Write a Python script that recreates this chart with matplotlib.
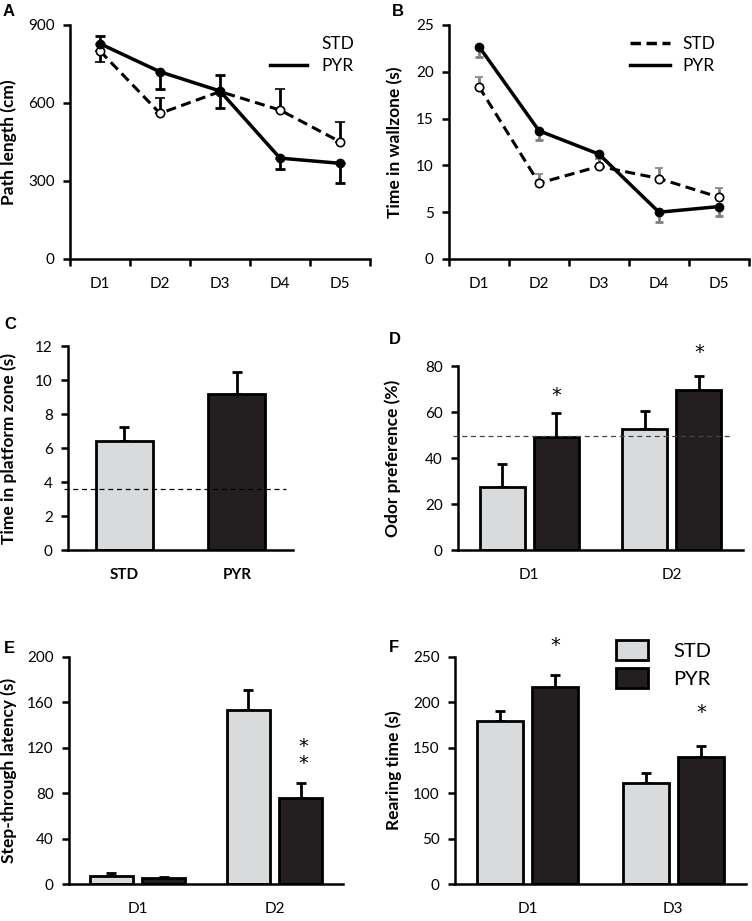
import matplotlib
matplotlib.use("Agg")
import matplotlib.pyplot as plt
from matplotlib.lines import Line2D
from matplotlib.patches import Patch
import numpy as np

plt.rcParams['font.family'] = ['Lato', 'DejaVu Sans']

W, H = 752, 921
GRAY = '#d9dadc'
BLACK = '#231f20'

# ---- data ----
days5 = ['D1', 'D2', 'D3', 'D4', 'D5']

# A: path length (cm)
a_std = [800, 560, 644, 573, 451]
a_std_lo = [42, 0, 0, 0, 0]
a_std_hi = [0, 58, 0, 80, 77]
a_pyr = [828, 720, 646, 388, 368]
a_pyr_lo = [0, 66, 67, 40, 74]
a_pyr_hi = [30, 0, 62, 0, 0]

# B: time in wallzone (s)
b_std = [18.4, 8.1, 9.9, 8.6, 6.6]
b_std_hi = [1.0, 1.0, 0.8, 1.1, 1.0]
b_pyr = [22.7, 13.7, 11.2, 5.0, 5.6]
b_pyr_lo = [1.1, 1.0, 0.0, 1.0, 1.0]

# C: time in platform zone (s)
c_groups = ['STD', 'PYR']
c_vals = [6.4, 9.15]
c_err = [0.85, 1.3]
c_chance = 3.6

# D: odor preference (%)
d_days = ['D1', 'D2']
d_std = [27.5, 52.8]
d_std_err = [9.9, 7.6]
d_pyr = [49.1, 69.4]
d_pyr_err = [10.3, 6.3]
d_chance = 49.6
d_star_y = [65.0, 83.3]

# E: step-through latency (s)
e_days = ['D1', 'D2']
e_std = [7.3, 153.7]
e_std_err = [2.2, 17.6]
e_pyr = [5.3, 76.1]
e_pyr_err = [1.1, 12.9]
e_star_y = 101.7

# F: rearing time (s)
f_days = ['D1', 'D3']
f_std = [179.6, 110.7]
f_std_err = [10.6, 11.0]
f_pyr = [217.0, 140.0]
f_pyr_err = [12.8, 12.1]
f_star_y = [256.6, 182.5]

TICK = 11
LABEL = 12.5
STAR = 14


def rect(l, r, t, b):
    return [l / W, 1 - b / H, (r - l) / W, (b - t) / H]


def style(ax, xpad=13):
    for s in ['top', 'right']:
        ax.spines[s].set_visible(False)
    for s in ['left', 'bottom']:
        ax.spines[s].set_linewidth(1.8)
    ax.tick_params(axis='y', direction='out', length=5, width=1.8, labelsize=TICK, pad=6)
    ax.tick_params(axis='x', which='major', direction='out', length=0, width=1.8,
                   labelsize=TICK, pad=xpad)


fig = plt.figure(figsize=(W / 100, H / 100), dpi=100)

# ---------- A ----------
ax = fig.add_axes(rect(70, 370, 25, 259))
x = np.arange(1, 6)
ax.errorbar(x, a_std, yerr=[a_std_lo, a_std_hi], color='black', lw=2.2, ls=(0, (3.3, 1.8)),
            marker='o', ms=6, mfc='white', mec='black', mew=1.2, ecolor='black',
            elinewidth=2, capsize=3.5, capthick=2, zorder=3)
ax.errorbar(x, a_pyr, yerr=[a_pyr_lo, a_pyr_hi], color='black', lw=2.5, marker='o', ms=6,
            mfc='black', mec='black', ecolor='black', elinewidth=2, capsize=3.5, capthick=2, zorder=4)
ax.set_xlim(0.5, 5.5)
ax.set_ylim(0, 900)
ax.set_yticks([0, 300, 600, 900])
ax.set_xticks(x)
ax.set_xticklabels(days5)
ax.set_xticks(np.arange(0.5, 6.0, 1.0), minor=True)
style(ax)
ax.tick_params(axis='x', which='minor', direction='out', length=5, width=1.8)
ax.set_ylabel('Path length (cm)', fontsize=LABEL, fontweight='bold')
ax.yaxis.set_label_coords(-0.177, 0.5)
handles = [Line2D([], [], color='none'), Line2D([], [], color='black', lw=2.5)]
ax.legend(handles, ['STD', 'PYR'], loc='upper right', bbox_to_anchor=(0.977, 0.99), frameon=False,
          fontsize=12.5, handlelength=2.1, handletextpad=0.85, labelspacing=0.35, borderpad=0)

# ---------- B ----------
ax = fig.add_axes(rect(449, 749, 25, 259))
ax.errorbar(x, b_std, yerr=[np.zeros(5), b_std_hi], color='black', lw=2.2, ls=(0, (3.3, 1.8)),
            marker='o', ms=6, mfc='white', mec='black', mew=1.2, ecolor='#808080',
            elinewidth=2, capsize=3, capthick=2, zorder=3)
ax.errorbar(x, b_pyr, yerr=[b_pyr_lo, np.zeros(5)], color='black', lw=2.5, marker='o', ms=6,
            mfc='black', mec='black', ecolor='#808080', elinewidth=2, capsize=3, capthick=2, zorder=4)
ax.set_xlim(0.5, 5.5)
ax.set_ylim(0, 25)
ax.set_yticks([0, 5, 10, 15, 20, 25])
ax.set_xticks(x)
ax.set_xticklabels(days5)
ax.set_xticks(np.arange(0.5, 6.0, 1.0), minor=True)
style(ax)
ax.tick_params(axis='x', which='minor', direction='out', length=5, width=1.8)
ax.set_ylabel('Time in wallzone (s)', fontsize=LABEL, fontweight='bold')
ax.yaxis.set_label_coords(-0.153, 0.5)
handles = [Line2D([], [], color='black', lw=2.5, ls=(0, (3, 1.6))), Line2D([], [], color='black', lw=2.5)]
ax.legend(handles, ['STD', 'PYR'], loc='upper right', bbox_to_anchor=(0.917, 0.99), frameon=False,
          fontsize=12.5, handlelength=2.3, handletextpad=0.75, labelspacing=0.35, borderpad=0)

# ---------- C ----------
ax = fig.add_axes(rect(68, 293, 346, 550))
cx = np.arange(2)
ax.bar(cx, c_vals, width=0.51, color=[GRAY, BLACK], edgecolor='black', lw=2, zorder=2)
ax.errorbar(cx, c_vals, yerr=[np.zeros(2), c_err], fmt='none', ecolor='black', elinewidth=2,
            capsize=3.5, capthick=2, zorder=1)
ax.axhline(c_chance, xmin=-0.02, xmax=0.97, color='black', lw=0.9, ls=(0, (4, 3)), clip_on=False, zorder=3)
ax.set_xlim(-0.5, 1.5)
ax.set_ylim(0, 12)
ax.set_yticks(range(0, 13, 2))
ax.set_xticks(cx)
ax.set_xticklabels(c_groups, fontweight='bold')
style(ax)
ax.set_ylabel('Time in platform zone (s)', fontsize=LABEL, fontweight='bold')
ax.yaxis.set_label_coords(-0.225, 0.5)


def grouped(ax, std, std_err, pyr, pyr_err, labels):
    gx = np.arange(len(labels))
    off, bw = 0.19, 0.315
    ax.bar(gx - off, std, width=bw, color=GRAY, edgecolor='black', lw=2, zorder=2)
    ax.bar(gx + off, pyr, width=bw, color=BLACK, edgecolor='black', lw=2, zorder=2)
    ax.errorbar(gx - off, std, yerr=[np.zeros(len(gx)), std_err], fmt='none', ecolor='black',
                elinewidth=2, capsize=3.5, capthick=2, zorder=1)
    ax.errorbar(gx + off, pyr, yerr=[np.zeros(len(gx)), pyr_err], fmt='none', ecolor='black',
                elinewidth=2, capsize=3.5, capthick=2, zorder=1)
    ax.set_xlim(-0.5, len(labels) - 0.5)
    ax.set_xticks(gx)
    ax.set_xticklabels(labels)
    return gx + off


def star(ax, xi, yi, s='*'):
    ax.text(xi, yi, s, ha='center', va='baseline', fontsize=STAR, family='DejaVu Sans',
            linespacing=0.85, clip_on=False)


# ---------- D ----------
ax = fig.add_axes(rect(458, 743, 366, 550))
px = grouped(ax, d_std, d_std_err, d_pyr, d_pyr_err, d_days)
ax.axhline(d_chance, xmin=-0.018, xmax=0.965, color='#444444', lw=0.9, ls=(0, (4, 3)), clip_on=False, zorder=3)
ax.set_ylim(0, 80)
ax.set_yticks(range(0, 81, 20))
style(ax)
for xi, yi in zip(px, d_star_y):
    star(ax, xi, yi)
ax.set_ylabel('Odor preference (%)', fontsize=LABEL, fontweight='bold')
ax.yaxis.set_label_coords(-0.2, 0.5)

# ---------- E ----------
ax = fig.add_axes(rect(69, 343, 657, 884))
px = grouped(ax, e_std, e_std_err, e_pyr, e_pyr_err, e_days)
ax.set_ylim(0, 200)
ax.set_yticks(range(0, 201, 40))
style(ax)
star(ax, px[1] + 0.02, e_star_y, '*\n*')
ax.set_ylabel('Step-through latency (s)', fontsize=LABEL, fontweight='bold')
ax.yaxis.set_label_coords(-0.19, 0.5)

# ---------- F ----------
ax = fig.add_axes(rect(455, 746, 657, 884))
px = grouped(ax, f_std, f_std_err, f_pyr, f_pyr_err, f_days)
ax.set_ylim(0, 250)
ax.set_yticks(range(0, 251, 50))
style(ax)
for xi, yi in zip(px, f_star_y):
    star(ax, xi, yi)
ax.set_ylabel('Rearing time (s)', fontsize=LABEL, fontweight='bold')
ax.yaxis.set_label_coords(-0.182, 0.5)
handles = [Patch(facecolor=GRAY, edgecolor='black', lw=2), Patch(facecolor=BLACK, edgecolor='black', lw=2)]
ax.legend(handles, ['STD', 'PYR'], loc='upper left', bbox_to_anchor=(0.519, 1.12), frameon=False,
          fontsize=14.5, handlelength=1.6, handleheight=1.15, handletextpad=1.25, labelspacing=0.4,
          borderpad=0)

# panel letters
for lab, px_, py_ in [('A', 3, 4), ('B', 392, 4), ('C', 4, 317), ('D', 389, 332), ('E', 4, 641), ('F', 389, 640)]:
    fig.text(px_ / W, 1 - py_ / H, lab, ha='left', va='top', fontsize=12, fontweight='bold',
             family='Liberation Sans')

fig.savefig('out.png', dpi=100)
